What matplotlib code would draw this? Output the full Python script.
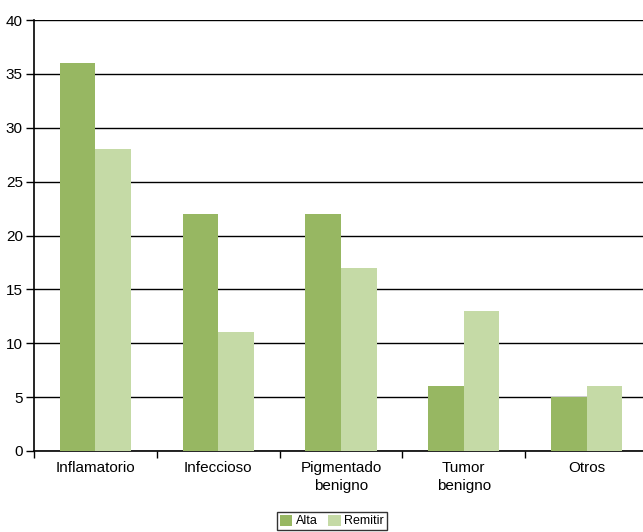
import matplotlib
matplotlib.use("Agg")
import matplotlib.pyplot as plt
import numpy as np

categories = ["Inflamatorio", "Infeccioso", "Pigmentado\nbenigno", "Tumor\nbenigno", "Otros"]
alta = [36, 22, 22, 6, 5]
remitir = [28, 11, 17, 13, 6]
yticks = [0, 5, 10, 15, 20, 25, 30, 35, 40]

plt.rcParams['font.family'] = ['Liberation Sans', 'DejaVu Sans']

W, H = 643, 532
fig = plt.figure(figsize=(W/100, H/100), dpi=100)
left, right, top, bottom = 34, 648, 20, 451
ax = fig.add_axes([left/W, (H-bottom)/H, (right-left)/W, (bottom-top)/H])

x = np.arange(len(categories))
bw = 0.29
ax.bar(x - bw/2, alta, bw, color="#97B762", label="Alta", zorder=3)
ax.bar(x + bw/2, remitir, bw, color="#C5DAA6", label="Remitir", zorder=3)

ax.set_xlim(-0.5, len(categories) - 0.5)
ax.set_ylim(0, 40)
ax.set_yticks(yticks)
ax.set_yticklabels([str(v) for v in yticks], fontsize=11)
ax.yaxis.grid(True, color="black", linewidth=1, zorder=1)
ax.set_axisbelow(True)

ax.set_xticks(x)
ax.set_xticklabels(categories, fontsize=11, linespacing=1.4)
ax.set_xticks(np.arange(len(categories) + 1) - 0.5, minor=True)
ax.tick_params(axis='x', which='major', length=0, pad=7)
ax.tick_params(axis='x', which='minor', length=5, width=1, direction='out', color='black')
ax.tick_params(axis='y', length=6, width=1, direction='out', pad=2)

for s in ["top", "right"]:
    ax.spines[s].set_visible(False)
for s in ["left", "bottom"]:
    ax.spines[s].set_linewidth(1.2)
    ax.spines[s].set_color("black")

leg = fig.legend(loc="center", bbox_to_anchor=(332/W, 1 - 521/H), ncol=2, fontsize=9,
                 frameon=True, fancybox=False, edgecolor="black", handlelength=1.0,
                 handleheight=1.0, handletextpad=0.3, columnspacing=0.8,
                 borderpad=0.2, borderaxespad=0)
leg.get_frame().set_linewidth(1.0)

fig.savefig("out.png", dpi=100)
